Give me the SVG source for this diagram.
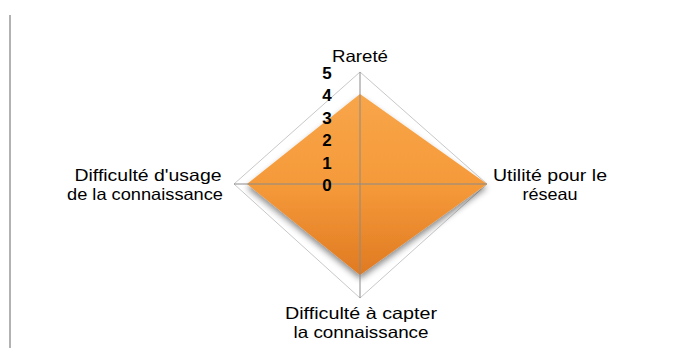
<svg xmlns="http://www.w3.org/2000/svg" width="700" height="349" viewBox="0 0 700 349">
<style>
.lbl{font-family:"Liberation Sans","Arial",sans-serif;font-size:16.5px;fill:#000;text-anchor:middle}
.num{font-family:"Liberation Sans","DejaVu Sans",sans-serif;font-size:17px;font-weight:bold;fill:#000;text-anchor:middle}
.grid{fill:none;stroke:#c8c8c8;stroke-width:1}
.axis{stroke:#8a8a8a;stroke-width:1}
</style>
<defs>
<linearGradient id="og" x1="0" y1="0" x2="0" y2="1">
<stop offset="0" stop-color="#f8a54a"/>
<stop offset="0.5" stop-color="#f59a3a"/>
<stop offset="1" stop-color="#e07a22"/>
</linearGradient>
<filter id="sh" x="-20%" y="-20%" width="140%" height="150%">
<feGaussianBlur in="SourceAlpha" stdDeviation="3"/>
<feOffset dx="0" dy="4" result="b"/>
<feComponentTransfer><feFuncA type="linear" slope="0.45"/></feComponentTransfer>
<feMerge><feMergeNode/><feMergeNode in="SourceGraphic"/></feMerge>
</filter>
</defs>
<rect width="700" height="349" fill="#fff"/>
<line x1="10" y1="15" x2="10" y2="348" stroke="#999" stroke-width="1.5"/>
<g id="grid">
<polygon class="grid" points="360,72 487,184 360,298 234,184"/>
</g>
<g id="series">
<polygon points="360,94 487,184 360,275 247,184" fill="url(#og)" filter="url(#sh)"/>
</g>
<g id="connectors">
<line class="axis" x1="360" y1="72" x2="360" y2="298"/>
<line class="axis" x1="234" y1="184" x2="487" y2="184"/>
</g>
<g id="scale">
<text class="num" x="327" y="79">5</text>
<text class="num" x="327" y="101">4</text>
<text class="num" x="327" y="124">3</text>
<text class="num" x="327" y="146">2</text>
<text class="num" x="327" y="169">1</text>
<text class="num" x="327" y="191">0</text>
</g>
<g id="n-rarete"><text class="lbl" x="360" y="62" textLength="56" lengthAdjust="spacingAndGlyphs">Rareté</text></g>
<g id="n-utilite">
<text class="lbl" x="550" y="181" textLength="114" lengthAdjust="spacingAndGlyphs">Utilité pour le</text>
<text class="lbl" x="550" y="200" textLength="55" lengthAdjust="spacingAndGlyphs">réseau</text>
</g>
<g id="n-capter">
<text class="lbl" x="361" y="319" textLength="152" lengthAdjust="spacingAndGlyphs">Difficulté à capter</text>
<text class="lbl" x="361" y="338" textLength="135" lengthAdjust="spacingAndGlyphs">la connaissance</text>
</g>
<g id="n-usage">
<text class="lbl" x="148" y="181" textLength="147" lengthAdjust="spacingAndGlyphs">Difficulté d'usage</text>
<text class="lbl" x="145" y="200" textLength="156" lengthAdjust="spacingAndGlyphs">de la connaissance</text>
</g>
</svg>
